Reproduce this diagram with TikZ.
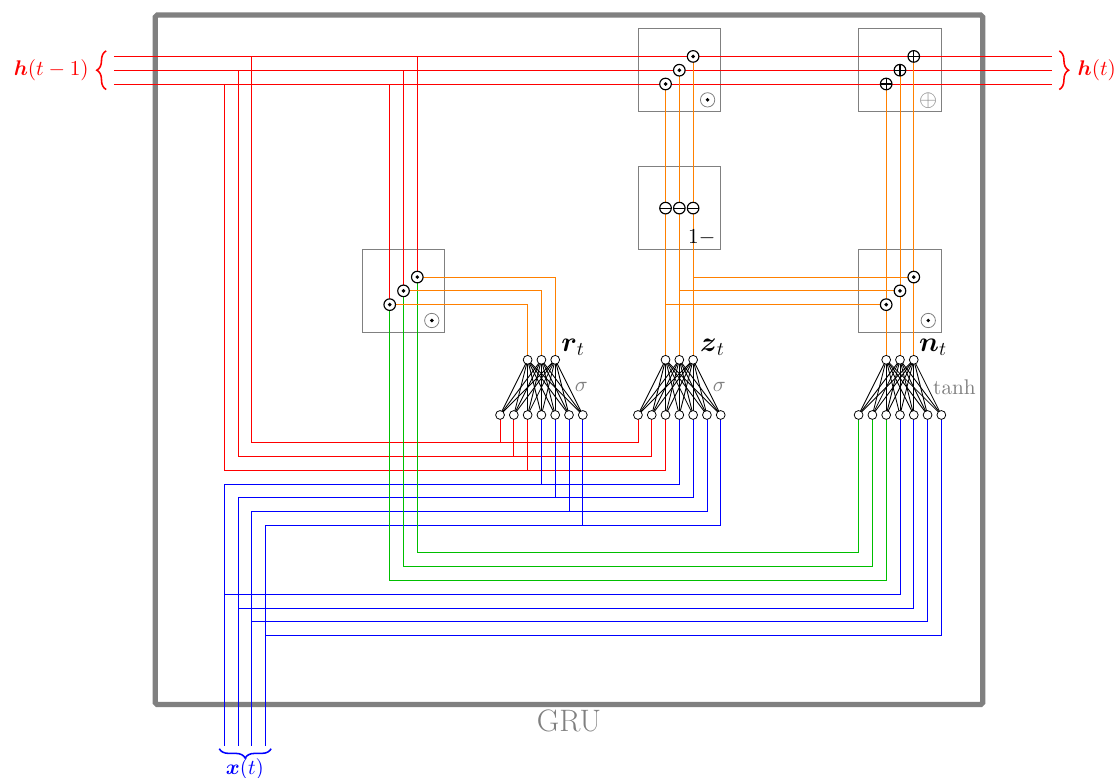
\documentclass[tikz,border=0pt]{standalone}
\usepackage{amsmath}
\usepackage{amssymb}
\usepackage{tikz}
\usetikzlibrary{decorations.pathreplacing}
\definecolor{wirered}{rgb}{1,0,0}
\definecolor{wireblue}{rgb}{0,0,1}
\definecolor{wiregreen}{rgb}{0,0.75,0}
\definecolor{wireorange}{rgb}{1,0.5,0}
\tikzstyle{o}      = [draw, circle, fill=white, inner sep=0pt, minimum size=0.16cm]
\tikzstyle{op}     = [draw, circle, fill=white, inner sep=0pt, minimum size=0.21cm, semithick]
\tikzstyle{opdot}  = [op, path picture={\fill [black] (path picture bounding box.center) circle (0.036cm);}]
\tikzstyle{opplus} = [op, path picture={
    \draw (path picture bounding box.west) -- (path picture bounding box.east);
    \draw (path picture bounding box.north) -- (path picture bounding box.south);}]
\tikzstyle{opneg}  = [op, path picture={\draw (path picture bounding box.west) -- (path picture bounding box.east);}]
\tikzstyle{legdot} = [opdot, draw=gray, thin, minimum size=0.26cm]
\tikzstyle{box}    = [draw=gray, minimum size=1.5cm, inner sep=0pt, outer sep=0pt]
\tikzstyle{frame}  = [draw=gray, line width=2.7pt, rounded corners=1pt]
\tikzstyle{sign}   = [gray, inner sep=0pt]
\tikzstyle{brace}  = [decorate, decoration={brace, amplitude=0.17cm}, thick]
\tikzstyle{state}  = [font=\fontsize{11.2}{13}\selectfont, inner sep=0pt]
\tikzstyle{fn}     = [sign, font=\fontsize{11}{13}\selectfont]
\tikzstyle{rw}     = [draw=wirered]
\tikzstyle{bw}     = [draw=wireblue]
\tikzstyle{gw}     = [draw=wiregreen]
\tikzstyle{ow}     = [draw=wireorange]
\tikzstyle{mesh}   = [draw, line width=0.45pt]

\begin{document}
\begin{tikzpicture}[x=0.25cm, y=-0.25cm]

\useasboundingbox (-16.26, -4.09) rectangle (64.81, 52.32);

% inputs and outputs
\coordinate (hl1) at ( -8,  0);
\coordinate (hl2) at ( -8,  1);
\coordinate (hl3) at ( -8,  2);
\coordinate (hr1) at ( 60,  0);
\coordinate (hr2) at ( 60,  1);
\coordinate (hr3) at ( 60,  2);
\coordinate (x1)  at (  0, 50);
\coordinate (x2)  at (  1, 50);
\coordinate (x3)  at (  2, 50);
\coordinate (x4)  at (  3, 50);

% corners of the long wires
\coordinate (tap1) at (  2,  0);
\coordinate (tap2) at (  1,  1);
\coordinate (tap3) at (  0,  2);
\coordinate (cr1)  at ( 30, 28);
\coordinate (cr2)  at ( 31, 29);
\coordinate (cr3)  at ( 32, 30);
\coordinate (cz1)  at ( 33, 31);
\coordinate (cz2)  at ( 34, 32);
\coordinate (cz3)  at ( 35, 33);
\coordinate (cz4)  at ( 36, 34);
\coordinate (cg1)  at ( 46, 36);
\coordinate (cg2)  at ( 47, 37);
\coordinate (cg3)  at ( 48, 38);
\coordinate (cn1)  at ( 49, 39);
\coordinate (cn2)  at ( 50, 40);
\coordinate (cn3)  at ( 51, 41);
\coordinate (cn4)  at ( 52, 42);

% positions of layers and operations
\foreach \i in {1,...,7} {
  \coordinate (rb\i) at (19+\i, 26);
  \coordinate (zb\i) at (29+\i, 26);
  \coordinate (nb\i) at (45+\i, 26);
}
\foreach \i in {1,2,3} {
  \coordinate (rt\i)   at (21+\i, 22);
  \coordinate (zt\i)   at (31+\i, 22);
  \coordinate (nt\i)   at (47+\i, 22);
  \coordinate (rdot\i) at (11+\i, 19-\i);
  \coordinate (ndot\i) at (47+\i, 19-\i);
  \coordinate (zdot\i) at (31+\i,  3-\i);
  \coordinate (add\i)  at (47+\i,  3-\i);
  \coordinate (neg\i)  at (31+\i, 11);
}

% boxes
\draw [frame] (-5, -3) rectangle (55, 47);
\node [box] at ( 13, 17) (boxr) {};
\node [box] at ( 49, 17) (boxn) {};
\node [box] at ( 33,  1) (boxz) {};
\node [box] at ( 33, 11) (boxo) {};
\node [box] at ( 49,  1) (boxa) {};

% state wires
\draw [rw]
  (hl1)   -- (hr1)
  (hl2)   -- (hr2)
  (hl3)   -- (hr3)
  (tap1)  |- (cr1) -- (zb1)
  (tap2)  |- (cr2) -- (zb2)
  (tap3)  |- (cr3) -- (zb3)
  (rb1)   -- (rb1 |- cr1)
  (rb2)   -- (rb2 |- cr2)
  (rb3)   -- (rb3 |- cr3)
  (rdot1) -- (rdot1 |- hl3)
  (rdot2) -- (rdot2 |- hl2)
  (rdot3) -- (rdot3 |- hl1);

% input wires
\draw [bw]
  (x1)  |- (cz1) -- (zb4)
  (x2)  |- (cz2) -- (zb5)
  (x3)  |- (cz3) -- (zb6)
  (x4)  |- (cz4) -- (zb7)
  (rb4) -- (rb4 |- cz1)
  (rb5) -- (rb5 |- cz2)
  (rb6) -- (rb6 |- cz3)
  (rb7) -- (rb7 |- cz4)
  (cn1 -| x1) -- (cn1) -- (nb4)
  (cn2 -| x2) -- (cn2) -- (nb5)
  (cn3 -| x3) -- (cn3) -- (nb6)
  (cn4 -| x4) -- (cn4) -- (nb7);

% reset wires
\draw [gw]
  (rdot3) |- (cg1) -- (nb1)
  (rdot2) |- (cg2) -- (nb2)
  (rdot1) |- (cg3) -- (nb3);

% gate wires
\draw [ow]
  (rdot1) -| (rt1)
  (rdot2) -| (rt2)
  (rdot3) -| (rt3)
  (zt1) -- (neg1) -- (zdot1)
  (zt2) -- (neg2) -- (zdot2)
  (zt3) -- (neg3) -- (zdot3)
  (zt1 |- ndot1) -- (ndot1)
  (zt2 |- ndot2) -- (ndot2)
  (zt3 |- ndot3) -- (ndot3)
  (nt1) -- (ndot1) -- (add1)
  (nt2) -- (ndot2) -- (add2)
  (nt3) -- (ndot3) -- (add3);

% fully connected layers
\foreach \i in {1,2,3} {
  \foreach \j in {1,...,7} {
    \draw [mesh] (rt\i) -- (rb\j);
    \draw [mesh] (zt\i) -- (zb\j);
    \draw [mesh] (nt\i) -- (nb\j);
  }
}

% layers
\foreach \i in {1,...,7} {
  \node [o] at (rb\i) (rb\i) {};
  \node [o] at (zb\i) (zb\i) {};
  \node [o] at (nb\i) (nb\i) {};
}
\foreach \i in {1,2,3} {
  \node [o] at (rt\i) (rt\i) {};
  \node [o] at (zt\i) (zt\i) {};
  \node [o] at (nt\i) (nt\i) {};
  \node [opdot]  at (rdot\i) (rdot\i) {};
  \node [opdot]  at (ndot\i) (ndot\i) {};
  \node [opdot]  at (zdot\i) (zdot\i) {};
  \node [opneg]  at (neg\i)  (neg\i)  {};
  \node [opplus] at (add\i)  (add\i)  {};
}

% labels
\node [legdot] at ( 15.05, 19.15) (signr) {};
\node [legdot] at ( 51.05, 19.15) (signn) {};
\node [legdot] at ( 35.05,  3.15) (signz) {};
\node [sign, font=\large] at ( 51.05,  3.2) (signa) {$\oplus$};
\node [black, inner sep=0pt, font=\fontsize{11}{13}\selectfont] at ( 34.63, 13.1) (signo) {$1-$};
\node [font=\Large] at ( 25.3, 21.1) (rlabel) {$\boldsymbol{r}_t$};
\node [font=\Large] at ( 35.4, 21.1) (zlabel) {$\boldsymbol{z}_t$};
\node [font=\Large] at ( 51.4, 21.1) (nlabel) {$\boldsymbol{n}_t$};
\node [fn] at ( 25.9, 24  ) (rsigma) {$\sigma$};
\node [fn] at ( 35.9, 24  ) (zsigma) {$\sigma$};
\node [fn] at ( 52.95, 24) (ntanh) {$\tanh$};
\node [sign, font=\fontsize{16}{18}\selectfont] at ( 25, 48.2) (gru) {GRU};
\node [state, wirered, anchor=east] at ( -9.8, 1) (hin)  {$\boldsymbol{h}(t-1)$};
\node [state, wirered, anchor=west] at ( 61.85, 1) (hout) {$\boldsymbol{h}(t)$};
\node [state, wireblue] at ( 1.5, 51.7) (xin) {$\boldsymbol{x}(t)$};

% braces
\draw [brace, wirered]  (-8.56, 2.4) -- (-8.56, -0.4);
\draw [brace, wirered]  ( 60.55, -0.4) -- ( 60.55, 2.4);
\draw [brace, wireblue] ( 3.4, 50.2) -- (-0.36, 50.2);

\end{tikzpicture}
\end{document}
